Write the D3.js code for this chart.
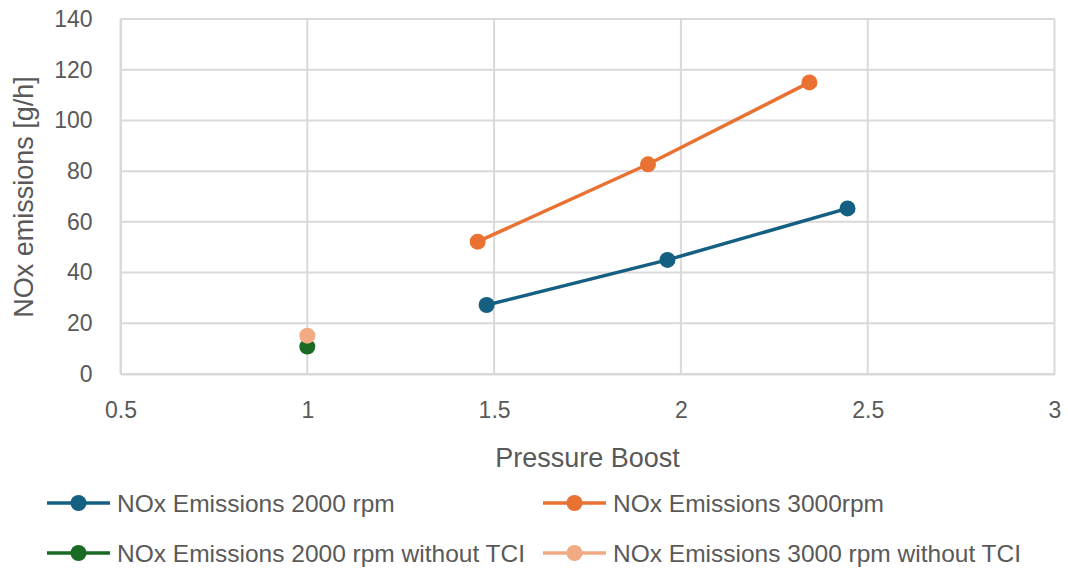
<!DOCTYPE html>
<html>
<head>
<meta charset="utf-8">
<script src="https://cdn.jsdelivr.net/npm/d3@7"></script>
<style>
  html, body { margin: 0; padding: 0; background: #fff; }
  svg { display: block; }
</style>
</head>
<body>
<svg id="chart" width="1068" height="571"></svg>
<script>
// Pressure boost vs NOx emissions
const boost2000 = [1.48, 1.964, 2.446];
const nox2000 = [27.2, 45.0, 65.3];
const boost3000 = [1.456, 1.912, 2.344];
const nox3000 = [52.2, 82.7, 115.0];
const boost2000NoTCI = [1.0];
const nox2000NoTCI = [10.8];
const boost3000NoTCI = [1.0];
const nox3000NoTCI = [15.1];

const xTicks = [0.5, 1, 1.5, 2, 2.5, 3];
const yTicks = [0, 20, 40, 60, 80, 100, 120, 140];

const seriesNames = [
  "NOx Emissions 2000 rpm",
  "NOx Emissions 3000rpm",
  "NOx Emissions 2000 rpm without TCI",
  "NOx Emissions 3000 rpm without TCI"
];
const seriesColors = ["#156082", "#E97132", "#196B24", "#F2AA84"];

const series = [
  { name: seriesNames[0], color: seriesColors[0], pts: boost2000.map((x, i) => [x, nox2000[i]]) },
  { name: seriesNames[1], color: seriesColors[1], pts: boost3000.map((x, i) => [x, nox3000[i]]) },
  { name: seriesNames[2], color: seriesColors[2], pts: boost2000NoTCI.map((x, i) => [x, nox2000NoTCI[i]]) },
  { name: seriesNames[3], color: seriesColors[3], pts: boost3000NoTCI.map((x, i) => [x, nox3000NoTCI[i]]) }
];

const svg = d3.select("#chart");
const font = "'Liberation Sans', Arial, sans-serif";
const textColor = "#595959";
const gridColor = "#D9D9D9";

const plot = { left: 120.5, right: 1054.5, top: 19, bottom: 374 };

const x = d3.scaleLinear().domain([0.5, 3]).range([plot.left, plot.right]);
const y = d3.scaleLinear().domain([0, 140]).range([plot.bottom, plot.top]);

// gridlines
const grid = svg.append("g");
grid.selectAll("line.h").data(yTicks).join("line")
  .attr("x1", plot.left).attr("x2", plot.right)
  .attr("y1", d => y(d)).attr("y2", d => y(d))
  .attr("stroke", gridColor).attr("stroke-width", 2);
grid.selectAll("line.v").data(xTicks).join("line")
  .attr("y1", plot.top).attr("y2", plot.bottom)
  .attr("x1", d => x(d)).attr("x2", d => x(d))
  .attr("stroke", gridColor).attr("stroke-width", 2);

// axes
const xAxis = svg.append("g")
  .attr("transform", `translate(0,${plot.bottom})`)
  .call(d3.axisBottom(x).tickValues(xTicks).tickSize(0).tickFormat(d3.format("")));
xAxis.selectAll("text").attr("y", 44).attr("dy", 0);
const yAxis = svg.append("g")
  .attr("transform", `translate(${plot.left},0)`)
  .call(d3.axisLeft(y).tickValues(yTicks).tickSize(0).tickPadding(28));
[xAxis, yAxis].forEach(a => {
  a.select(".domain").attr("stroke", gridColor).attr("stroke-width", 2);
  a.selectAll("text").attr("fill", textColor).style("font-family", font).style("font-size", "23px");
});

// axis titles
svg.append("text")
  .attr("x", (plot.left + plot.right) / 2).attr("y", 467)
  .attr("text-anchor", "middle")
  .attr("fill", textColor).style("font-family", font).style("font-size", "27px")
  .text("Pressure Boost");
svg.append("text")
  .attr("transform", `translate(33,197) rotate(-90)`)
  .attr("text-anchor", "middle")
  .attr("fill", textColor).style("font-family", font).style("font-size", "27px")
  .text("NOx emissions [g/h]");

// series
const line = d3.line().x(d => x(d[0])).y(d => y(d[1]));
series.forEach(s => {
  if (s.pts.length > 1) {
    svg.append("path").datum(s.pts)
      .attr("d", line).attr("fill", "none")
      .attr("stroke", s.color).attr("stroke-width", 3.5);
  }
  svg.append("g").selectAll("circle").data(s.pts).join("circle")
    .attr("cx", d => x(d[0])).attr("cy", d => y(d[1]))
    .attr("r", 8).attr("fill", s.color);
});

// legend
const legendPos = [[47, 503], [543, 503], [47, 553], [543, 553]];
series.forEach((s, i) => {
  const [lx, ly] = legendPos[i];
  const g = svg.append("g").attr("transform", `translate(${lx},${ly})`);
  g.append("line").attr("x1", 0).attr("x2", 63).attr("y1", 0).attr("y2", 0)
    .attr("stroke", s.color).attr("stroke-width", 3.5);
  g.append("circle").attr("cx", 31.5).attr("cy", 0).attr("r", 8).attr("fill", s.color);
  g.append("text").attr("x", 70).attr("y", 0).attr("dy", "0.35em")
    .attr("fill", textColor).style("font-family", font).style("font-size", "24.5px")
    .text(s.name);
});
</script>
</body>
</html>
